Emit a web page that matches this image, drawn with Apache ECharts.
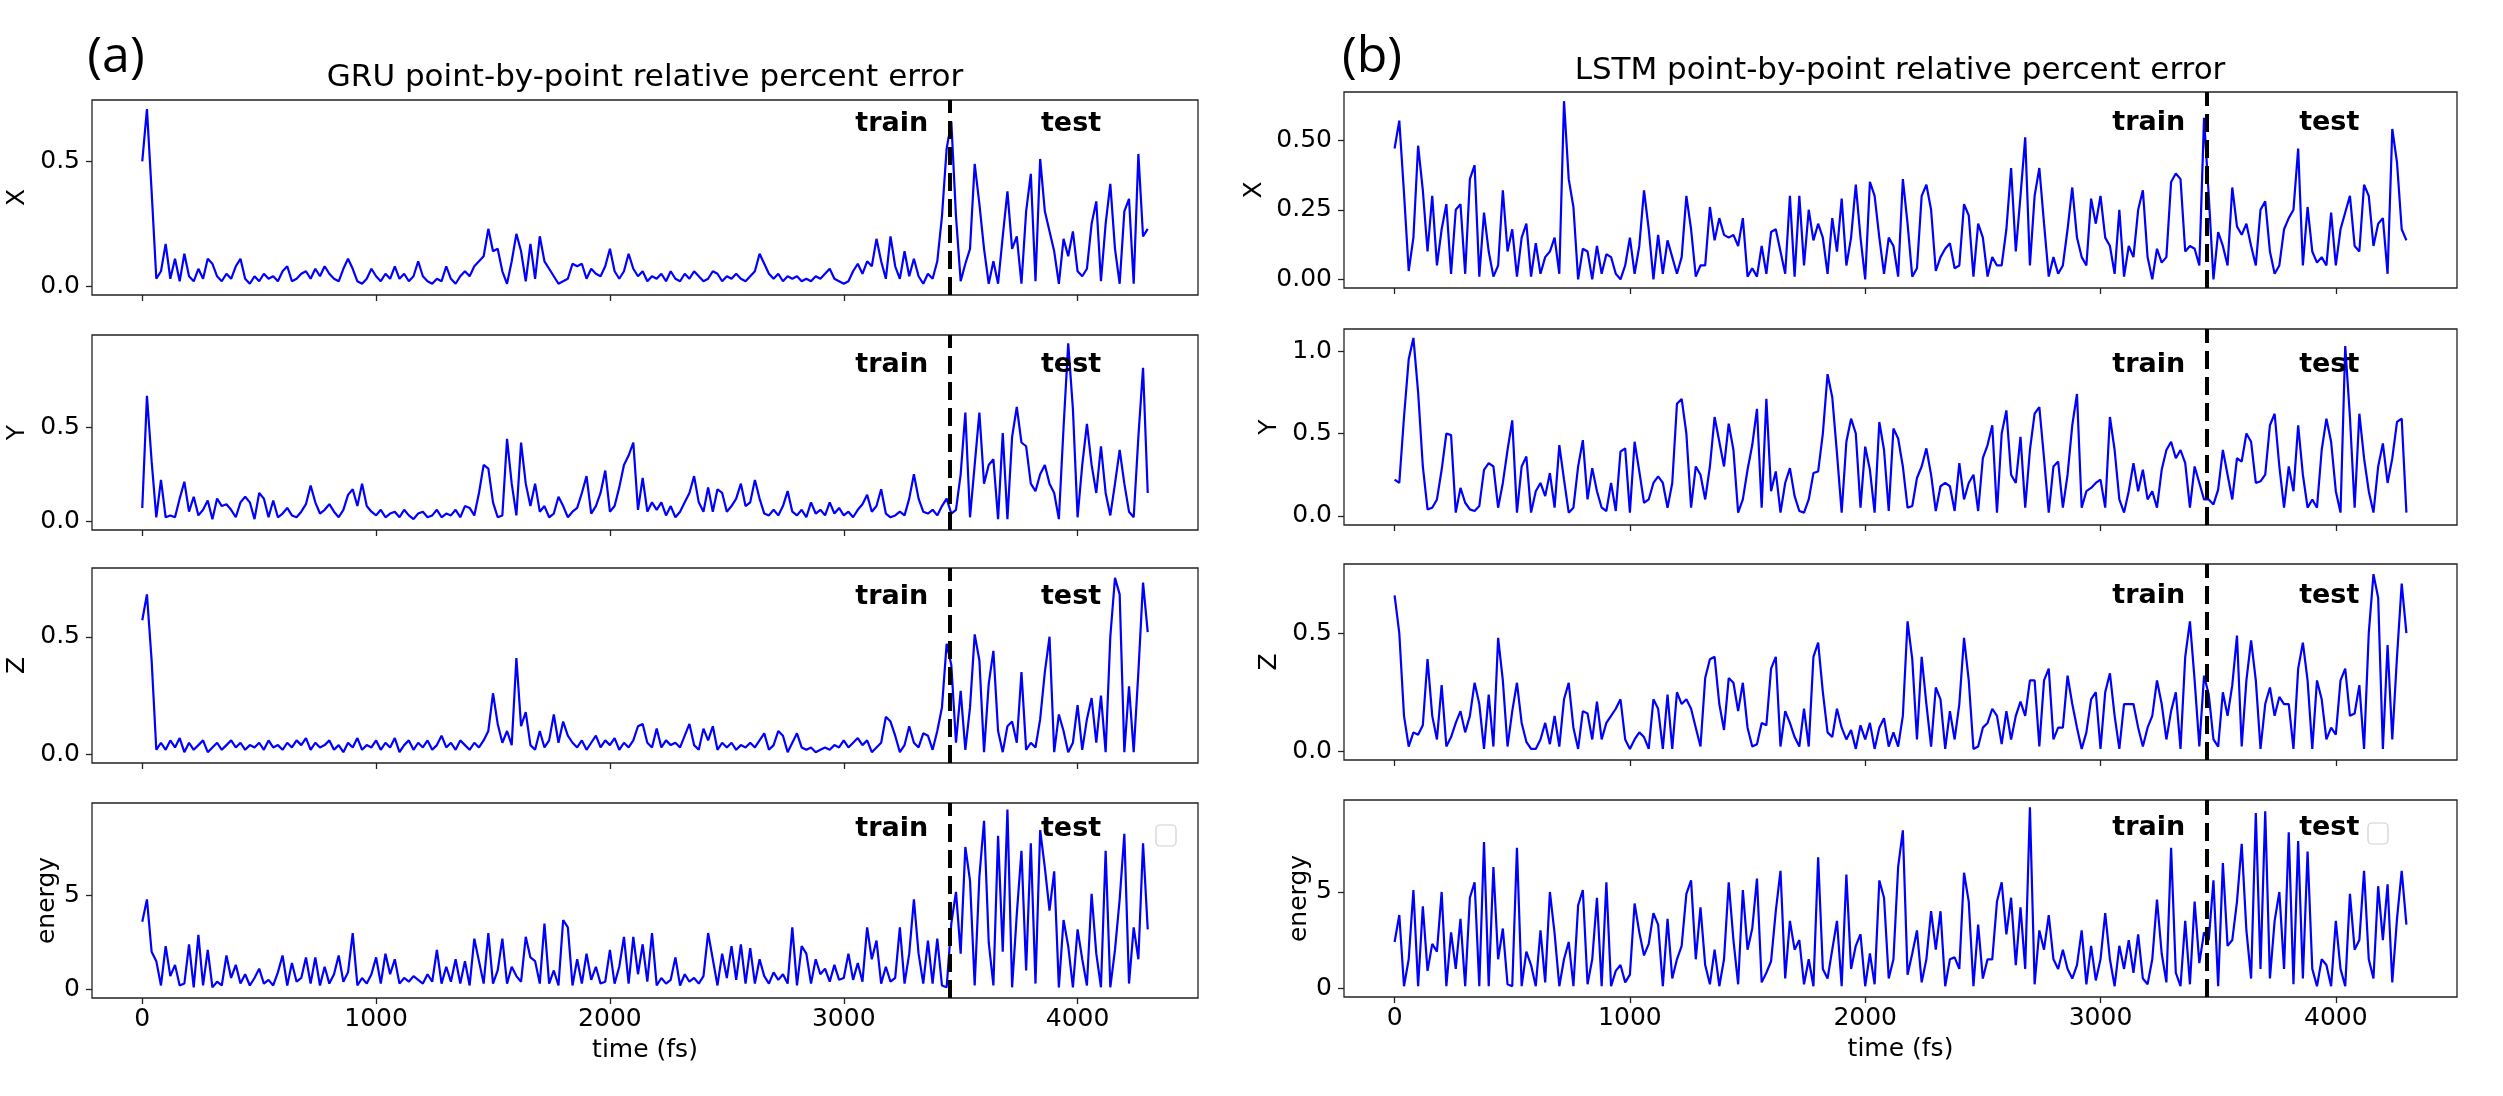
<!DOCTYPE html>
<html>
<head>
<meta charset="utf-8">
<title>GRU / LSTM point-by-point relative percent error</title>
<script src="https://cdn.jsdelivr.net/npm/echarts@6.0.0/dist/echarts.min.js"></script>
<style>
  html, body { margin: 0; padding: 0; background: #fff; }
  #chart { width: 2503px; height: 1096px; }
</style>
</head>
<body>
<div id="chart"></div>
<script>
// samples are 20 fs apart, 0 .. 4300 fs
var STEP = 20;
var SPLIT = 3452;      // train / test boundary (fs)
var TRAIN_AT = 3205;   // where the "train" word sits
var TEST_AT = 3972;    // where the "test" word sits
var xTickVals = [0, 1000, 2000, 3000, 4000];
var titles = ['GRU point-by-point relative percent error', 'LSTM point-by-point relative percent error'];
var tags = ['(a)', '(b)'];

// GRU
var gruX = [
  0.50,0.71,0.38,0.03,0.06,0.17,0.03,0.11,0.02,0.13,
  0.04,0.02,0.07,0.03,0.11,0.09,0.04,0.02,0.05,0.03,
  0.08,0.11,0.03,0.01,0.04,0.02,0.05,0.03,0.04,0.02,
  0.06,0.08,0.02,0.03,0.05,0.06,0.03,0.07,0.04,0.08,
  0.05,0.03,0.02,0.07,0.11,0.07,0.02,0.01,0.03,0.07,
  0.04,0.02,0.05,0.03,0.08,0.03,0.05,0.02,0.04,0.10,
  0.04,0.02,0.01,0.03,0.02,0.08,0.03,0.01,0.04,0.06,
  0.04,0.08,0.10,0.12,0.23,0.14,0.15,0.06,0.01,0.10,
  0.21,0.14,0.02,0.17,0.03,0.20,0.10,0.07,0.04,0.01,
  0.02,0.03,0.09,0.08,0.09,0.03,0.07,0.05,0.04,0.08,
  0.15,0.06,0.03,0.06,0.13,0.07,0.04,0.06,0.02,0.04,
  0.03,0.05,0.02,0.06,0.03,0.02,0.05,0.03,0.06,0.04,
  0.02,0.03,0.06,0.05,0.02,0.04,0.03,0.05,0.03,0.02,
  0.04,0.06,0.13,0.09,0.05,0.03,0.05,0.02,0.04,0.03,
  0.04,0.02,0.03,0.02,0.04,0.03,0.05,0.07,0.03,0.02,
  0.01,0.02,0.06,0.09,0.05,0.10,0.08,0.19,0.10,0.03,
  0.20,0.08,0.03,0.14,0.04,0.11,0.04,0.01,0.05,0.03,
  0.10,0.28,0.55,0.66,0.28,0.02,0.09,0.15,0.49,0.33,
  0.15,0.01,0.10,0.01,0.20,0.38,0.15,0.20,0.01,0.30,
  0.45,0.02,0.51,0.30,0.22,0.14,0.01,0.19,0.12,0.22,
  0.06,0.04,0.07,0.25,0.34,0.02,0.25,0.41,0.15,0.01,
  0.30,0.35,0.01,0.53,0.20,0.23
];
var gruY = [
  0.07,0.67,0.32,0.02,0.22,0.02,0.03,0.02,0.12,0.21,
  0.05,0.13,0.03,0.06,0.11,0.01,0.12,0.08,0.09,0.06,
  0.02,0.10,0.13,0.10,0.01,0.15,0.12,0.02,0.11,0.02,
  0.04,0.07,0.03,0.02,0.05,0.09,0.19,0.10,0.04,0.06,
  0.09,0.05,0.02,0.06,0.14,0.17,0.08,0.20,0.08,0.05,
  0.03,0.06,0.02,0.04,0.05,0.02,0.06,0.03,0.01,0.04,
  0.05,0.02,0.03,0.06,0.02,0.04,0.03,0.06,0.02,0.08,
  0.07,0.03,0.15,0.30,0.28,0.10,0.02,0.03,0.44,0.20,
  0.03,0.42,0.20,0.08,0.20,0.05,0.08,0.02,0.04,0.13,
  0.08,0.02,0.05,0.07,0.15,0.24,0.04,0.08,0.15,0.27,
  0.05,0.08,0.18,0.30,0.35,0.42,0.06,0.23,0.05,0.10,
  0.06,0.10,0.03,0.08,0.02,0.05,0.10,0.15,0.24,0.10,
  0.05,0.18,0.05,0.17,0.15,0.05,0.08,0.12,0.20,0.08,
  0.10,0.22,0.12,0.04,0.03,0.06,0.03,0.08,0.16,0.05,
  0.03,0.06,0.02,0.10,0.04,0.06,0.03,0.10,0.04,0.07,
  0.03,0.05,0.02,0.06,0.09,0.14,0.05,0.08,0.17,0.04,
  0.02,0.03,0.05,0.03,0.12,0.25,0.12,0.05,0.04,0.06,
  0.03,0.08,0.12,0.04,0.06,0.25,0.58,0.02,0.30,0.58,
  0.20,0.30,0.33,0.01,0.47,0.01,0.45,0.61,0.42,0.40,
  0.20,0.16,0.25,0.30,0.20,0.15,0.01,0.50,0.95,0.60,
  0.02,0.30,0.52,0.30,0.15,0.40,0.15,0.03,0.20,0.38,
  0.20,0.05,0.02,0.45,0.82,0.15
];
var gruZ = [
  0.57,0.68,0.40,0.02,0.05,0.02,0.06,0.03,0.07,0.01,
  0.05,0.02,0.04,0.06,0.01,0.03,0.05,0.02,0.04,0.06,
  0.03,0.05,0.02,0.04,0.03,0.05,0.02,0.06,0.03,0.04,
  0.02,0.05,0.03,0.06,0.04,0.07,0.02,0.05,0.03,0.04,
  0.06,0.02,0.04,0.01,0.05,0.03,0.07,0.02,0.04,0.03,
  0.06,0.02,0.05,0.03,0.07,0.01,0.04,0.06,0.02,0.05,
  0.03,0.06,0.02,0.04,0.08,0.03,0.05,0.02,0.06,0.04,
  0.02,0.05,0.03,0.06,0.10,0.26,0.13,0.05,0.10,0.04,
  0.41,0.12,0.18,0.04,0.02,0.10,0.03,0.06,0.17,0.05,
  0.14,0.08,0.05,0.03,0.06,0.02,0.05,0.08,0.03,0.06,
  0.04,0.07,0.02,0.05,0.03,0.06,0.12,0.13,0.05,0.03,
  0.11,0.03,0.06,0.04,0.05,0.03,0.08,0.13,0.04,0.02,
  0.11,0.06,0.12,0.02,0.05,0.03,0.05,0.02,0.04,0.03,
  0.05,0.03,0.06,0.09,0.02,0.04,0.10,0.08,0.01,0.05,
  0.09,0.03,0.02,0.03,0.01,0.02,0.03,0.02,0.04,0.03,
  0.06,0.03,0.05,0.07,0.04,0.06,0.01,0.03,0.05,0.16,
  0.14,0.08,0.01,0.04,0.12,0.05,0.03,0.09,0.08,0.02,
  0.10,0.20,0.47,0.38,0.05,0.27,0.02,0.20,0.51,0.40,
  0.01,0.30,0.44,0.10,0.01,0.12,0.14,0.05,0.35,0.02,
  0.05,0.03,0.15,0.35,0.50,0.01,0.17,0.10,0.01,0.05,
  0.21,0.02,0.15,0.24,0.05,0.25,0.01,0.50,0.75,0.68,
  0.01,0.29,0.01,0.35,0.73,0.52
];
var gruE = [
  3.6,4.8,2.0,1.5,0.2,2.3,0.7,1.3,0.2,0.3,
  2.4,0.1,2.9,0.2,2.1,0.1,0.4,0.2,1.8,0.6,
  1.3,0.3,0.8,0.2,0.6,1.1,0.3,0.5,0.2,0.9,
  1.8,0.2,1.4,0.4,0.6,1.7,0.3,1.7,0.2,1.2,
  0.3,0.8,1.8,0.4,0.9,3.0,0.2,0.6,0.3,0.8,
  1.7,0.3,1.9,0.8,1.6,0.3,0.6,0.4,0.7,0.5,
  0.3,0.8,0.4,2.1,0.3,1.2,0.4,1.6,0.3,1.5,
  0.2,2.7,1.5,0.3,3.0,0.3,1.0,2.7,0.3,1.2,
  0.7,0.4,2.8,1.7,1.5,0.3,3.5,0.3,1.0,0.2,
  3.7,3.3,0.2,1.6,0.3,1.9,0.5,1.2,0.3,0.4,
  2.1,0.3,1.2,2.8,0.3,2.8,0.8,2.4,0.4,3.0,
  0.2,0.6,0.3,0.5,1.7,0.2,0.8,0.4,0.6,0.3,
  0.7,3.0,1.6,0.2,1.9,0.6,2.3,0.5,2.4,0.3,
  2.2,0.3,1.6,0.7,0.3,0.9,0.5,0.8,0.3,3.3,
  0.2,2.3,1.9,0.3,1.6,0.8,1.1,0.4,1.3,0.5,
  0.6,1.9,0.5,1.4,0.4,3.3,1.6,2.6,0.3,1.2,
  0.4,0.6,3.3,0.3,1.9,4.8,1.9,0.3,2.6,0.3,
  2.7,0.2,0.1,3.5,5.2,1.9,7.6,5.8,0.2,6.0,
  9.0,2.5,0.2,8.2,2.0,9.6,0.1,4.0,7.4,1.0,
  7.8,0.3,8.5,6.5,4.2,6.3,0.1,3.7,2.3,0.1,
  3.2,1.6,0.2,5.1,1.9,0.1,7.4,0.1,2.1,4.8,
  8.3,0.3,3.3,1.6,7.8,3.2
];

// LSTM
var lstmX = [
  0.47,0.57,0.31,0.03,0.15,0.48,0.32,0.10,0.30,0.05,
  0.18,0.27,0.02,0.25,0.27,0.02,0.36,0.41,0.01,0.24,
  0.10,0.01,0.05,0.32,0.10,0.18,0.01,0.15,0.20,0.01,
  0.13,0.02,0.08,0.10,0.15,0.02,0.64,0.36,0.26,0.00,
  0.11,0.10,0.00,0.12,0.02,0.09,0.08,0.02,0.00,0.05,
  0.15,0.02,0.12,0.32,0.18,0.00,0.16,0.02,0.14,0.08,
  0.02,0.08,0.30,0.18,0.01,0.05,0.05,0.26,0.14,0.22,
  0.16,0.15,0.16,0.12,0.22,0.01,0.04,0.01,0.12,0.02,
  0.17,0.18,0.10,0.02,0.30,0.01,0.30,0.05,0.25,0.14,
  0.20,0.15,0.02,0.22,0.10,0.29,0.05,0.15,0.34,0.15,
  0.00,0.35,0.30,0.15,0.02,0.15,0.12,0.01,0.36,0.20,
  0.01,0.04,0.30,0.34,0.25,0.03,0.08,0.11,0.13,0.04,
  0.05,0.27,0.23,0.01,0.20,0.15,0.01,0.08,0.05,0.05,
  0.18,0.40,0.10,0.30,0.51,0.05,0.30,0.40,0.20,0.01,
  0.08,0.02,0.05,0.18,0.33,0.15,0.08,0.05,0.29,0.20,
  0.30,0.15,0.12,0.02,0.25,0.01,0.12,0.08,0.25,0.32,
  0.08,0.00,0.11,0.06,0.08,0.35,0.38,0.36,0.10,0.12,
  0.11,0.05,0.58,0.30,0.00,0.17,0.12,0.05,0.33,0.19,
  0.16,0.20,0.12,0.05,0.25,0.28,0.10,0.02,0.05,0.18,
  0.22,0.25,0.47,0.05,0.26,0.10,0.06,0.08,0.05,0.24,
  0.05,0.18,0.24,0.30,0.12,0.10,0.34,0.30,0.12,0.20,
  0.22,0.02,0.54,0.42,0.18,0.14
];
var lstmY = [
  0.22,0.20,0.60,0.95,1.08,0.75,0.30,0.04,0.05,0.10,
  0.28,0.50,0.49,0.02,0.17,0.08,0.04,0.03,0.06,0.28,
  0.32,0.30,0.05,0.20,0.40,0.58,0.02,0.30,0.36,0.02,
  0.15,0.20,0.12,0.26,0.05,0.43,0.22,0.02,0.05,0.30,
  0.46,0.10,0.29,0.15,0.05,0.03,0.20,0.03,0.39,0.41,
  0.02,0.45,0.27,0.08,0.10,0.20,0.24,0.20,0.05,0.20,
  0.68,0.71,0.50,0.05,0.30,0.25,0.10,0.30,0.60,0.45,
  0.30,0.56,0.40,0.02,0.10,0.28,0.43,0.65,0.05,0.71,
  0.15,0.27,0.02,0.20,0.29,0.12,0.03,0.02,0.10,0.26,
  0.27,0.50,0.86,0.72,0.38,0.02,0.45,0.59,0.50,0.05,
  0.42,0.28,0.02,0.57,0.40,0.03,0.53,0.47,0.30,0.05,
  0.06,0.23,0.30,0.41,0.25,0.03,0.18,0.20,0.18,0.03,
  0.32,0.10,0.20,0.25,0.03,0.35,0.43,0.55,0.02,0.50,
  0.64,0.25,0.20,0.48,0.05,0.40,0.62,0.66,0.35,0.02,
  0.30,0.33,0.05,0.25,0.55,0.74,0.05,0.15,0.17,0.20,
  0.22,0.05,0.60,0.40,0.10,0.02,0.15,0.32,0.15,0.28,
  0.10,0.15,0.05,0.28,0.40,0.45,0.35,0.40,0.32,0.05,
  0.30,0.20,0.10,0.10,0.07,0.16,0.40,0.25,0.10,0.35,
  0.33,0.50,0.45,0.20,0.21,0.25,0.55,0.62,0.30,0.05,
  0.30,0.15,0.55,0.25,0.05,0.10,0.05,0.40,0.59,0.45,
  0.15,0.02,1.03,0.60,0.05,0.62,0.35,0.15,0.02,0.30,
  0.44,0.20,0.35,0.57,0.59,0.02
];
var lstmZ = [
  0.66,0.50,0.15,0.02,0.08,0.07,0.11,0.39,0.15,0.05,
  0.28,0.02,0.06,0.12,0.17,0.08,0.15,0.29,0.20,0.01,
  0.24,0.02,0.48,0.30,0.02,0.17,0.29,0.12,0.04,0.01,
  0.01,0.05,0.12,0.03,0.15,0.02,0.22,0.29,0.10,0.01,
  0.17,0.16,0.05,0.21,0.05,0.12,0.15,0.18,0.22,0.05,
  0.01,0.05,0.08,0.06,0.01,0.22,0.18,0.01,0.24,0.01,
  0.25,0.20,0.22,0.18,0.10,0.02,0.31,0.39,0.40,0.20,
  0.09,0.31,0.29,0.17,0.29,0.10,0.02,0.03,0.12,0.11,
  0.35,0.40,0.02,0.17,0.12,0.06,0.02,0.18,0.02,0.40,
  0.46,0.25,0.08,0.06,0.18,0.10,0.05,0.09,0.01,0.11,
  0.05,0.12,0.01,0.10,0.14,0.02,0.08,0.02,0.15,0.55,
  0.39,0.05,0.40,0.20,0.02,0.27,0.22,0.01,0.17,0.05,
  0.20,0.48,0.30,0.01,0.02,0.10,0.12,0.18,0.15,0.03,
  0.17,0.05,0.15,0.21,0.15,0.30,0.30,0.02,0.30,0.35,
  0.05,0.10,0.10,0.32,0.20,0.10,0.01,0.08,0.22,0.25,
  0.01,0.25,0.33,0.15,0.01,0.20,0.20,0.20,0.10,0.02,
  0.10,0.15,0.30,0.20,0.05,0.17,0.25,0.01,0.40,0.55,
  0.30,0.02,0.32,0.24,0.05,0.02,0.25,0.15,0.28,0.49,
  0.02,0.30,0.47,0.30,0.01,0.20,0.27,0.15,0.23,0.20,
  0.20,0.01,0.35,0.46,0.30,0.01,0.30,0.22,0.05,0.10,
  0.07,0.30,0.35,0.15,0.16,0.28,0.01,0.50,0.75,0.65,
  0.01,0.45,0.05,0.40,0.71,0.50
];
var lstmE = [
  2.4,3.8,0.1,1.5,5.1,0.1,4.25,0.9,2.3,1.9,
  5.0,0.1,2.9,1.0,3.6,0.1,4.7,5.5,0.1,7.6,
  0.1,6.3,1.5,3.1,0.2,0.1,7.3,0.1,1.9,1.2,
  0.1,3.0,0.3,5.0,2.85,0.1,1.5,2.4,0.1,4.3,
  5.1,0.2,1.5,4.7,0.1,5.5,0.1,0.9,1.2,0.3,
  0.7,4.4,2.9,1.7,2.3,3.9,3.3,0.1,3.6,0.5,
  1.5,2.2,4.9,5.6,1.5,4.2,1.2,0.2,2.0,0.1,
  1.5,5.5,2.5,0.2,5.1,2.0,3.1,5.7,0.3,0.8,
  1.4,4.0,6.1,0.5,3.5,2.0,2.5,0.2,1.5,0.1,
  6.8,1.0,0.5,2.0,3.5,0.1,5.9,1.0,2.2,2.8,
  0.1,1.8,0.2,5.6,4.7,0.5,1.5,6.3,8.2,0.7,
  1.8,3.0,0.3,1.5,4.0,2.0,4.0,0.1,1.5,1.6,
  1.0,6.0,4.5,0.1,3.3,0.5,1.5,1.5,4.5,5.5,
  2.8,4.7,1.2,4.2,1.0,9.4,0.2,3.0,2.0,3.8,
  1.5,1.0,2.0,1.0,0.5,1.2,3.0,0.2,2.2,0.4,
  1.5,3.9,1.5,0.1,2.2,1.0,2.5,0.8,2.8,0.5,
  0.2,1.5,4.6,1.8,0.3,7.3,0.8,0.1,3.5,0.2,
  4.5,1.3,2.9,2.5,5.6,0.1,6.5,2.2,2.5,4.5,
  7.5,3.0,0.5,9.1,1.0,9.2,0.5,3.5,5.0,1.0,
  8.1,0.2,7.65,0.5,7.1,1.0,0.1,1.5,1.2,0.1,
  3.5,1.0,0.1,4.9,2.0,2.5,6.1,1.5,0.5,5.3,
  2.5,5.4,0.3,3.6,6.1,3.3
];

// layout of the eight panels (px) and their y scales
var panels = [
  { name: 'X', data: gruX, box: [92, 100, 1106, 195], y: [-0.035, 0.746], ticks: [0, 0.5], dec: 1, gap: 62, tagDy: 24 },
  { name: 'Y', data: gruY, box: [92, 335, 1106, 195], y: [-0.048, 0.995], ticks: [0, 0.5], dec: 1, gap: 62, tagDy: 30 },
  { name: 'Z', data: gruZ, box: [92, 568, 1106, 195], y: [-0.036, 0.792], ticks: [0, 0.5], dec: 1, gap: 62, tagDy: 29 },
  { name: 'energy', data: gruE, box: [92, 803, 1106, 195], y: [-0.47, 9.95], ticks: [0, 5], dec: 0, gap: 32, tagDy: 26, bottom: true, legendBox: [1156, 825] },
  { name: 'X', data: lstmX, box: [1344, 92, 1113, 196], y: [-0.031, 0.673], ticks: [0, 0.25, 0.5], dec: 2, gap: 77, tagDy: 31 },
  { name: 'Y', data: lstmY, box: [1344, 329, 1113, 196], y: [-0.055, 1.134], ticks: [0, 0.5, 1], dec: 1, gap: 62, tagDy: 36 },
  { name: 'Z', data: lstmZ, box: [1344, 564, 1113, 196], y: [-0.037, 0.793], ticks: [0, 0.5], dec: 1, gap: 62, tagDy: 32 },
  { name: 'energy', data: lstmE, box: [1344, 800, 1113, 197], y: [-0.46, 9.78], ticks: [0, 5], dec: 0, gap: 32, tagDy: 28, bottom: true, legendBox: [2368, 823] }
];

var FONT = 'DejaVu Sans';
var FRAME = '#222';

function pairs(vals) {
  return vals.map(function (v, i) { return [i * STEP, v]; });
}

var chart = echarts.init(document.getElementById('chart'), null, { renderer: 'canvas' });

var grids = [], xAxes = [], yAxes = [], series = [];
panels.forEach(function (p, i) {
  grids.push({
    left: p.box[0], top: p.box[1], width: p.box[2], height: p.box[3],
    show: true, borderColor: FRAME, borderWidth: 1.3, backgroundColor: 'transparent',
    containLabel: false, outerBoundsMode: 'none'
  });
  xAxes.push({
    type: 'value', gridIndex: i, min: -215, max: 4515, position: 'bottom',
    axisLine: { show: false, onZero: false },
    splitLine: { show: false },
    axisTick: { show: true, length: 6, customValues: xTickVals, lineStyle: { color: FRAME, width: 1.3 } },
    axisLabel: {
      show: !!p.bottom, customValues: xTickVals, margin: 9,
      color: '#000', fontSize: 25, fontFamily: FONT,
      formatter: function (v) { return String(Math.round(v)); }
    },
    name: p.bottom ? 'time (fs)' : '',
    nameLocation: 'middle', nameGap: 40,
    nameTextStyle: { color: '#000', fontSize: 25, fontFamily: FONT }
  });
  yAxes.push({
    type: 'value', gridIndex: i, min: p.y[0], max: p.y[1], position: 'left',
    axisLine: { show: false, onZero: false },
    splitLine: { show: false },
    axisTick: { show: true, length: 6, customValues: p.ticks, lineStyle: { color: FRAME, width: 1.3 } },
    axisLabel: {
      customValues: p.ticks, margin: 12, color: '#000', fontSize: 25, fontFamily: FONT,
      formatter: (function (d) { return function (v) { return Number(v).toFixed(d); }; })(p.dec)
    },
    name: p.name, nameLocation: 'middle', nameGap: p.gap,
    nameTextStyle: { color: '#000', fontSize: 25, fontFamily: FONT }
  });
  series.push({
    type: 'line', xAxisIndex: i, yAxisIndex: i,
    data: pairs(p.data),
    showSymbol: false, symbol: 'none', smooth: false,
    lineStyle: { color: '#0000ff', width: 2.2 },
    silent: true, animation: false,
    markLine: {
      silent: true, animation: false, symbol: ['none', 'none'],
      label: { show: false },
      lineStyle: { color: '#000', type: [18, 8], width: 4 },
      data: [{ xAxis: SPLIT }]
    }
  });
});

chart.setOption({
  backgroundColor: '#fff',
  animation: false,
  textStyle: { fontFamily: FONT },
  grid: grids,
  xAxis: xAxes,
  yAxis: yAxes,
  series: series
});

// titles, panel tags, train/test words and the empty legend boxes
var graphics = [
  { type: 'text', x: 645, y: 78, z: 100, style: { text: titles[0], font: '31px "DejaVu Sans"', fill: '#000', align: 'center', verticalAlign: 'middle' } },
  { type: 'text', x: 1900, y: 71, z: 100, style: { text: titles[1], font: '31px "DejaVu Sans"', fill: '#000', align: 'center', verticalAlign: 'middle' } },
  { type: 'text', x: 116, y: 58, z: 100, style: { text: tags[0], font: '50px "Open Sans"', fill: '#000', align: 'center', verticalAlign: 'middle' } },
  { type: 'text', x: 1372, y: 58, z: 100, style: { text: tags[1], font: '50px "Open Sans"', fill: '#000', align: 'center', verticalAlign: 'middle' } }
];
panels.forEach(function (p, i) {
  var ty = p.box[1] + p.tagDy;
  var xTrain = chart.convertToPixel({ gridIndex: i }, [TRAIN_AT, 0])[0];
  var xTest = chart.convertToPixel({ gridIndex: i }, [TEST_AT, 0])[0];
  graphics.push({ type: 'text', x: xTrain, y: ty, z: 100, style: { text: 'train', font: 'bold 27px "DejaVu Sans"', fill: '#000', align: 'center', verticalAlign: 'middle' } });
  graphics.push({ type: 'text', x: xTest, y: ty, z: 100, style: { text: 'test', font: 'bold 27px "DejaVu Sans"', fill: '#000', align: 'center', verticalAlign: 'middle' } });
  if (p.legendBox) {
    graphics.push({
      type: 'rect', z: 100,
      shape: { x: p.legendBox[0], y: p.legendBox[1], width: 20, height: 21, r: 4 },
      style: { fill: 'rgba(255,255,255,0.8)', stroke: '#d0d0d0', lineWidth: 1.2 }
    });
  }
});
chart.setOption({ graphic: graphics });
</script>
</body>
</html>
